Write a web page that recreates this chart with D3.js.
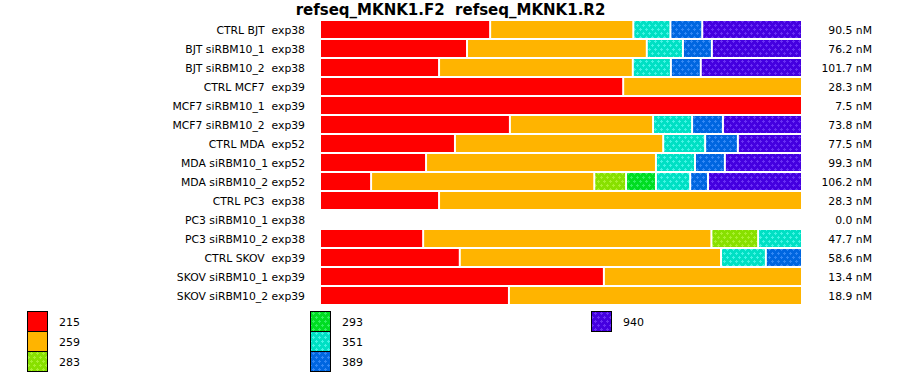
<!DOCTYPE html>
<html><head><meta charset="utf-8">
<script src="https://cdn.jsdelivr.net/npm/d3@7"></script>
<style>body{margin:0;background:#fff}svg{display:block}text{font-family:"DejaVu Sans",Verdana,sans-serif;white-space:pre}</style>
</head><body><svg id="c" width="900" height="375"></svg>
<script>
const title = "refseq_MKNK1.F2  refseq_MKNK1.R2";
const categories = ["CTRL BJT  exp38","BJT siRBM10_1  exp38","BJT siRBM10_2  exp38","CTRL MCF7  exp39","MCF7 siRBM10_1  exp39","MCF7 siRBM10_2  exp39","CTRL MDA  exp52","MDA siRBM10_1 exp52","MDA siRBM10_2 exp52","CTRL PC3  exp38","PC3 siRBM10_1 exp38","PC3 siRBM10_2 exp38","CTRL SKOV  exp39","SKOV siRBM10_1 exp39","SKOV siRBM10_2 exp39"];
const totals = ["90.5 nM","76.2 nM","101.7 nM","28.3 nM","7.5 nM","73.8 nM","77.5 nM","99.3 nM","106.2 nM","28.3 nM","0.0 nM","47.7 nM","58.6 nM","13.4 nM","18.9 nM"];
const seriesNames = ["215","259","283","293","351","389","940"];
// percentage share of each series per row
const s215 = [35.3,30.5,24.7,62.9,100,39.4,28.0,22.0,10.6,24.7,0,21.4,29.0,58.9,39.2];
const s259 = [29.7,37.3,40.2,37.1,0,29.7,43.2,47.7,46.3,75.3,0,59.8,54.2,41.1,60.8];
const s283 = [0,0,0,0,0,0,0,0,6.6,0,0,9.7,0,0,0];
const s293 = [0,0,0,0,0,0,0,0,6.2,0,0,0,0,0,0];
const s351 = [7.7,7.5,7.9,0,0,8.1,8.7,8.1,7.1,0,0,9.1,9.3,0,0];
const s389 = [6.6,6.0,6.2,0,0,6.4,6.8,6.2,3.7,0,0,0,7.5,0,0];
const s940 = [20.7,18.7,21.0,0,0,16.4,13.3,16.0,19.5,0,0,0,0,0,0];
const seriesValues = [s215,s259,s283,s293,s351,s389,s940];
const baseColors = ["#ff0000","#ffb400","#88e000","#00dd22","#00e0c4","#0066e0","#4400e0"];
const dotColors  = [null,null,"#aaf030","#33f060","#44f4e4","#3388f4","#6a30f4"];

const svg = d3.select("#c");
const defs = svg.append("defs");
seriesNames.forEach((n,i)=>{
  if(!dotColors[i]) return;
  const p = defs.append("pattern").attr("id","p"+i).attr("patternUnits","userSpaceOnUse")
    .attr("width",6).attr("height",8);
  p.append("rect").attr("width",6).attr("height",8).attr("fill",baseColors[i]);
  [[1,0],[4,4]].forEach(([cx,cy])=>{
    p.append("path").attr("d",`M${cx},${cy}h1v1h1v1h-1v1h-1v-1h-1v-1h1z`).attr("fill",dotColors[i]);
  });
});
const fillOf = i => dotColors[i] ? `url(#p${i})` : baseColors[i];

const rows = categories.map((c,r)=>{
  const o = {cat:c};
  const sum = d3.sum(seriesValues, s=>s[r]);
  seriesNames.forEach((n,i)=>{ o[n] = sum>0 ? seriesValues[i][r]/sum*100 : 0; });
  return o;
});
const stack = d3.stack().keys(seriesNames)(rows);

const x = d3.scaleLinear().domain([0,100]).range([320,802]);
const y = d3.scaleBand().domain(categories).range([20,20+19*categories.length]).padding(0);

svg.append("text").attr("x",450.5).attr("y",15).attr("text-anchor","middle")
  .attr("font-size",15).attr("font-weight","bold").attr("fill","#000").text(title);

stack.forEach((layer,i)=>{
  svg.append("g").selectAll("rect").data(layer.filter(d=>d[1]-d[0]>0)).join("rect")
    .attr("x",d=>x(d[0])+1).attr("width",d=>x(d[1])-x(d[0])-2)
    .attr("y",d=>y(d.data.cat)+1).attr("height",y.bandwidth()-2)
    .attr("fill",fillOf(i));
});

svg.append("g").selectAll("text").data(categories).join("text")
  .attr("x",305).attr("y",d=>y(d)+y.bandwidth()/2+4).attr("text-anchor","end")
  .attr("font-size",10.8).attr("fill","#000").text(d=>d);
svg.append("g").selectAll("text").data(totals).join("text")
  .attr("x",872).attr("y",(d,i)=>y(categories[i])+y.bandwidth()/2+4).attr("text-anchor","end")
  .attr("font-size",10.8).attr("fill","#000").text(d=>d);

// legend
const legCols = [[0,1,2],[3,4,5],[6]];
const legX = [27,310,591];
legCols.forEach((col,ci)=>{
  col.forEach((si,ri)=>{
    const yy = 311+ri*20;
    svg.append("rect").attr("x",legX[ci]+0.5).attr("y",yy+0.5).attr("width",20).attr("height",20)
      .attr("fill",fillOf(si)).attr("stroke","#000").attr("stroke-width",1);
    svg.append("text").attr("x",legX[ci]+32).attr("y",yy+15).attr("font-size",11).attr("fill","#000").text(seriesNames[si]);
  });
});
</script></body></html>
